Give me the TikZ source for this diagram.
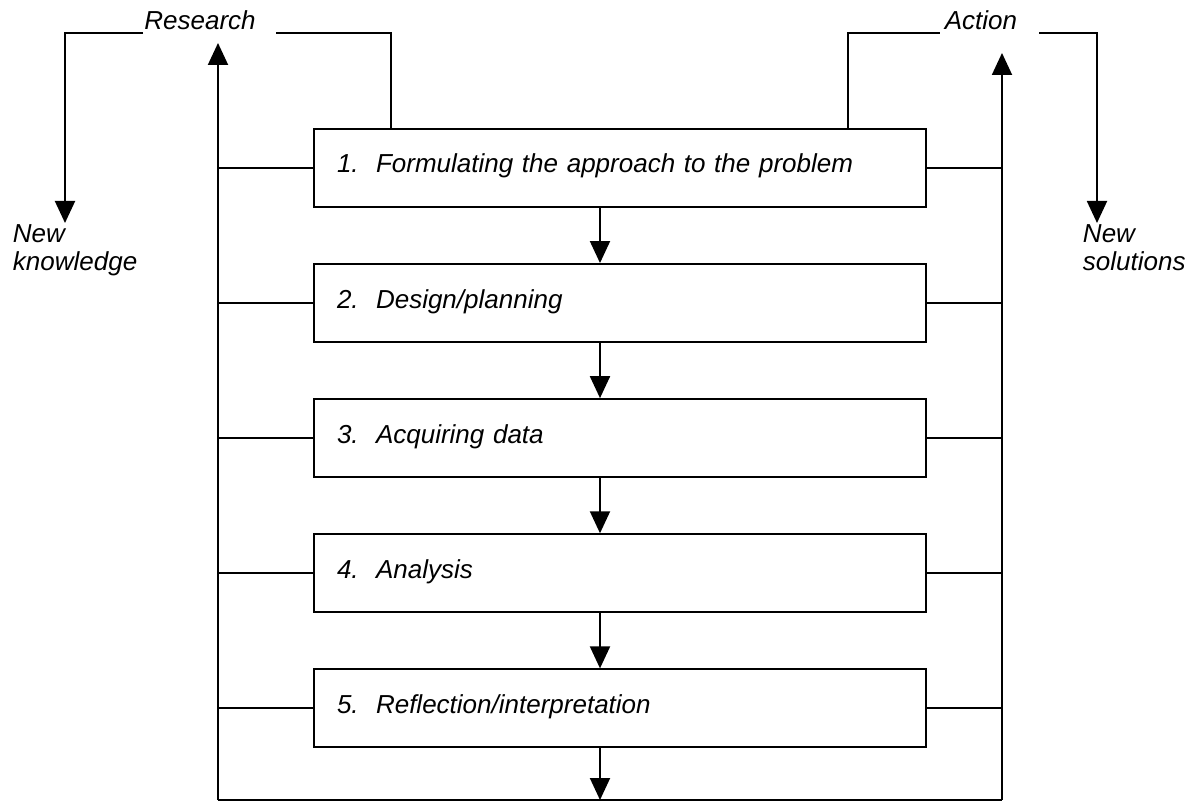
\documentclass[tikz,border=0pt]{standalone}
\usepackage{fontspec}
\setmainfont{Liberation Sans}
\usetikzlibrary{arrows.meta}
\usetikzlibrary{positioning}
\tikzset{>={Triangle[length=0.44cm,width=0.4cm]}}
\tikzset{
  stepbox/.style = {draw, rectangle, line width=1.2pt, align=left,
    text width=11.32cm, inner xsep=0.46cm, inner ysep=0.4cm,
    text height=0.48cm, text depth=0.28cm,
    font=\itshape\fontsize{14.8}{15.9}\selectfont},
  toplabel/.style = {inner sep=0pt, anchor=base,
    font=\itshape\fontsize{14.8}{15.9}\selectfont},
  outlabel/.style = {inner sep=0pt, anchor=north west, align=left,
    font=\itshape\fontsize{14.8}{15.9}\selectfont},
  flow/.style = {line width=1.1pt}
}
\begin{document}
\begin{tikzpicture}[flow]
\useasboundingbox (0,0) rectangle (23.92,16.04);

% the five steps
\node [stepbox] (b1) at (12.4,12.68) {1.~~Formulating the approach to the problem};
\node [stepbox, below=1.1cm of b1] (b2) {2.~~Design/planning};
\node [stepbox, below=1.1cm of b2] (b3) {3.~~Acquiring data};
\node [stepbox, below=1.1cm of b3] (b4) {4.~~Analysis};
\node [stepbox, below=1.1cm of b4] (b5) {5.~~Reflection/interpretation};

\draw [->] ([xshift=-0.4cm]b1.south) -- ([xshift=-0.4cm]b2.north);
\draw [->] ([xshift=-0.4cm]b2.south) -- ([xshift=-0.4cm]b3.north);
\draw [->] ([xshift=-0.4cm]b3.south) -- ([xshift=-0.4cm]b4.north);
\draw [->] ([xshift=-0.4cm]b4.south) -- ([xshift=-0.4cm]b5.north);

% outer loop
\coordinate (lb) at (4.36,0.04);
\coordinate (lt) at (4.36,15.18);
\coordinate (rb) at (20.04,0.04);
\coordinate (rt) at (20.04,14.98);
\draw [->] (lb) -- (lt);
\draw [->] (rb) -- (rt);
\draw (lb) -- (rb);
\draw [->] ([xshift=-0.4cm]b5.south) -- ([xshift=-0.4cm]b5.south |- lb);

\draw (b1.west) -- (b1.west -| lb);
\draw (b2.west) -- (b2.west -| lb);
\draw (b3.west) -- (b3.west -| lb);
\draw (b4.west) -- (b4.west -| lb);
\draw (b5.west) -- (b5.west -| lb);
\draw (b1.east) -- (b1.east -| rb);
\draw (b2.east) -- (b2.east -| rb);
\draw (b3.east) -- (b3.east -| rb);
\draw (b4.east) -- (b4.east -| rb);
\draw (b5.east) -- (b5.east -| rb);

% research side
\node [toplabel] (research) at (4.0,15.44) {Research};
\node [outlabel] (newknow) at (0.24,11.56) {New\\knowledge};
\coordinate (rs1) at (2.86,15.38);
\coordinate (rs2) at (5.52,15.38);
\coordinate (kn) at (1.3,11.58);
\draw [->] (rs1) -| (kn);
\draw (rs2) -| ([xshift=-4.58cm]b1.north);

% action side
\node [toplabel] (action) at (19.62,15.44) {Action};
\node [outlabel] (newsol) at (21.64,11.56) {New\\solutions};
\coordinate (ac1) at (18.8,15.38);
\coordinate (ac2) at (20.78,15.38);
\coordinate (ns) at (21.94,11.58);
\draw ([xshift=4.56cm]b1.north) |- (ac1);
\draw [->] (ac2) -| (ns);
\end{tikzpicture}
\end{document}
